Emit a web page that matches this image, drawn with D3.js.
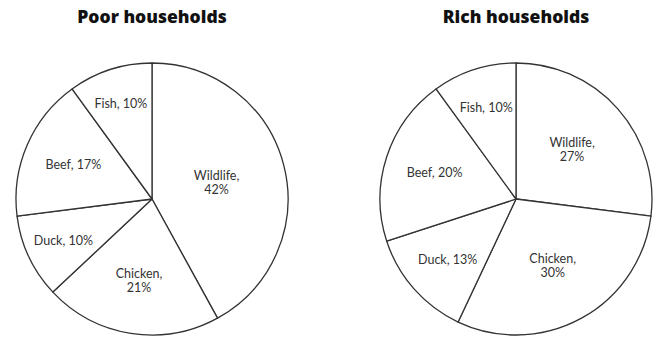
<!DOCTYPE html>
<html>
<head>
<meta charset="utf-8">
<script src="https://cdn.jsdelivr.net/npm/d3@7"></script>
<style>
  body { margin: 0; background: #fff; }
  svg { display: block; }
  .title { font-family: "Open Sans", Lato, sans-serif; font-weight: 800; font-size: 17.5px; fill: #111; }
  .label { font-family: Lato, "Open Sans", sans-serif; font-size: 12.5px; fill: #333; }
</style>
</head>
<body>
<div id="chart"></div>
<script>
// Data
const categories = ['Wildlife', 'Chicken', 'Duck', 'Beef', 'Fish'];
const poorValues = [42, 21, 10, 17, 10];
const richValues = [27, 30, 13, 20, 10];
const pieTitles = ['Poor households', 'Rich households'];
// labels split over two lines
const twoLineLabels = ['Wildlife', 'Chicken'];

// Layout (label distance from centre, as a fraction of the radius)
const poorLabelRadius = [0.49, 0.61, 0.72, 0.63, 0.74];
const richLabelRadius = [0.55, 0.56, 0.67, 0.63, 0.71];

const width = 654;
const height = 337;
const radius = 136;

const svg = d3.select('#chart')
    .append('svg')
    .attr('width', width)
    .attr('height', height);

const pies = [
    { title: pieTitles[0], values: poorValues, labelRadius: poorLabelRadius, cx: 152, cy: 199 },
    { title: pieTitles[1], values: richValues, labelRadius: richLabelRadius, cx: 516, cy: 199 }
];

const pie = d3.pie().sort(null).value(d => d.value);
const arc = d3.arc().innerRadius(0).outerRadius(radius);

pies.forEach(p => {
    const data = categories.map((c, i) => ({ name: c, value: p.values[i], lr: p.labelRadius[i] }));

    svg.append('text')
        .attr('class', 'title')
        .attr('x', p.cx)
        .attr('y', 23)
        .attr('text-anchor', 'middle')
        .text(p.title);

    const g = svg.append('g')
        .attr('transform', `translate(${p.cx},${p.cy})`);

    g.selectAll('path')
        .data(pie(data))
        .join('path')
        .attr('d', arc)
        .style('fill', '#fff')
        .style('stroke', '#333')
        .style('stroke-width', 1.3)
        .style('stroke-linejoin', 'round');

    // Labels
    g.selectAll('text.label')
        .data(pie(data))
        .join('text')
        .attr('class', 'label')
        .attr('text-anchor', 'middle')
        .each(function(d) {
            const r = radius * d.data.lr;
            const labelArc = d3.arc().innerRadius(r).outerRadius(r);
            const [x, y] = labelArc.centroid(d);
            const t = d3.select(this);
            const pct = `${d.data.value}%`;
            if (twoLineLabels.includes(d.data.name)) {
                t.append('tspan').attr('x', x).attr('y', y - 7 + 4.5).text(`${d.data.name},`);
                t.append('tspan').attr('x', x).attr('y', y + 7 + 4.5).text(pct);
            } else {
                t.append('tspan').attr('x', x).attr('y', y + 4.5).text(`${d.data.name}, ${pct}`);
            }
        });
});
</script>
</body>
</html>
